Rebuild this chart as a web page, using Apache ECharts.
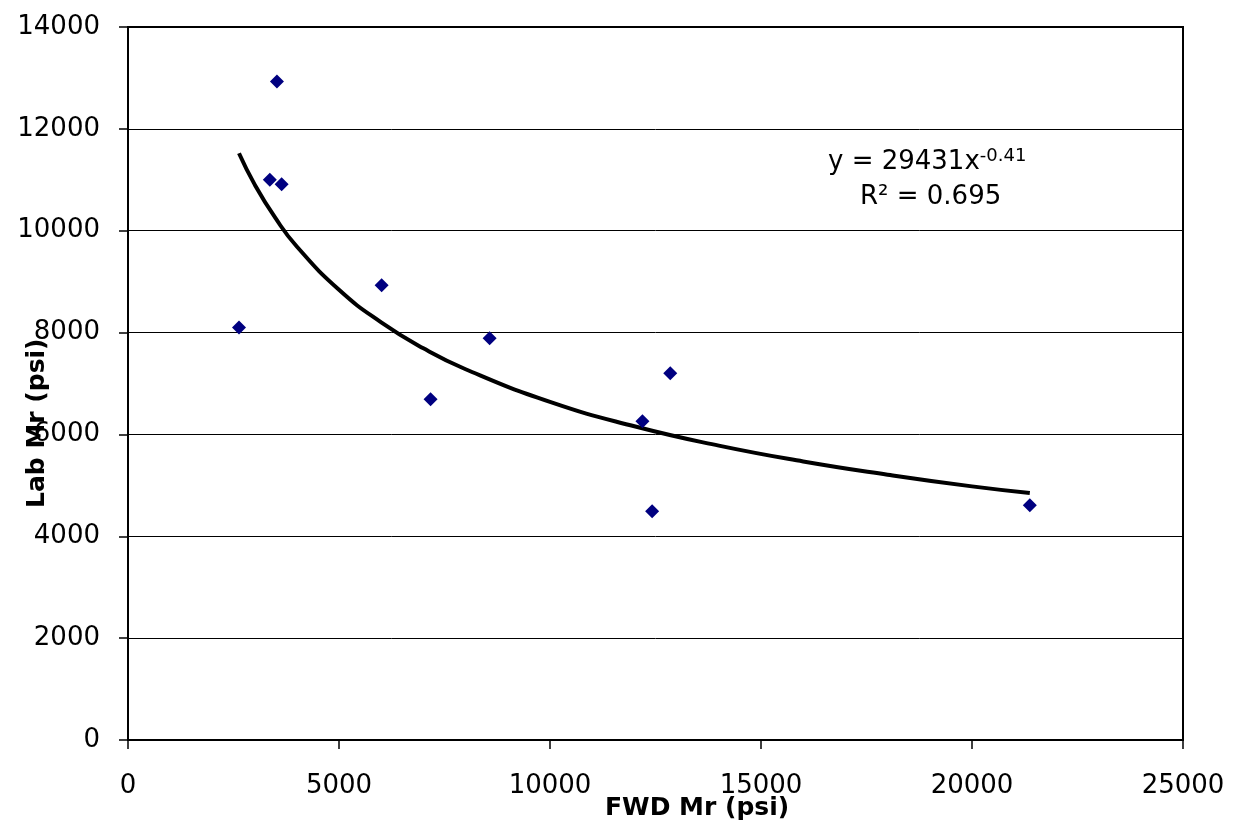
<!DOCTYPE html>
<html>
<head>
<meta charset="utf-8">
<script src="https://cdn.jsdelivr.net/npm/echarts@6/dist/echarts.min.js"></script>
<style>
  html, body { margin: 0; padding: 0; background: #fff; }
  #chart { width: 1233px; height: 834px; }
</style>
</head>
<body>
<div id="chart"></div>
<script>
// measured points, FWD Mr vs Lab Mr (psi)
var fwdMr = [2630, 3530, 3360, 3640, 6010, 7170, 8570, 12190, 12850, 12420, 21370];
var labMr = [8100, 12930, 11000, 10910, 8930, 6690, 7890, 6260, 7200, 4490, 4610];

// power trendline
var trendX = [2630, 3000, 3500, 4000, 5000, 6000, 7000, 8000, 10000, 12000, 14000, 16000, 18000, 20000, 21370];
var trendY = [11520, 10910, 10240, 9690, 8840, 8200, 7690, 7280, 6640, 6160, 5780, 5470, 5210, 4980, 4850];

var xTicks = [0, 5000, 10000, 15000, 20000, 25000];
var yTicks = [0, 2000, 4000, 6000, 8000, 10000, 12000, 14000];

var points = fwdMr.map(function (v, i) { return [v, labMr[i]]; });
var trend = trendX.map(function (v, i) { return [v, trendY[i]]; });

var chart = echarts.init(document.getElementById('chart'));

var labelFont = {
  fontFamily: 'DejaVu Sans',
  fontSize: 26,
  color: '#000',
  formatter: function (v) { return String(v); }
};

var option = {
  backgroundColor: '#fff',
  animation: false,
  grid: {
    left: 128,
    right: 50,
    top: 27,
    bottom: 94,
    show: true,
    borderColor: '#000',
    borderWidth: 2
  },
  xAxis: {
    type: 'value',
    min: xTicks[0],
    max: xTicks[xTicks.length - 1],
    interval: 5000,
    axisLine: { lineStyle: { color: '#000', width: 2 } },
    axisTick: { show: true, inside: false, length: 9, lineStyle: { color: '#000', width: 1.5 } },
    axisLabel: Object.assign({ margin: 33 }, labelFont),
    splitLine: { show: false }
  },
  yAxis: {
    type: 'value',
    min: yTicks[0],
    max: yTicks[yTicks.length - 1],
    interval: 2000,
    axisLine: { show: true, lineStyle: { color: '#000', width: 2 } },
    axisTick: { show: true, inside: false, length: 9, lineStyle: { color: '#000', width: 1.5 } },
    axisLabel: Object.assign({ margin: 28 }, labelFont),
    splitLine: { show: true, lineStyle: { color: '#000', width: 1 } }
  },
  graphic: [
    {
      type: 'text',
      left: 605,
      top: 796,
      style: {
        text: 'FWD Mr (psi)',
        font: 'bold 25px "DejaVu Sans"',
        fill: '#000'
      }
    },
    {
      type: 'text',
      x: 50,
      y: 508,
      rotation: Math.PI / 2,
      style: {
        text: 'Lab Mr (psi)',
        font: 'bold 25px "DejaVu Sans"',
        fill: '#000',
        textAlign: 'left',
        textVerticalAlign: 'bottom'
      }
    },
    {
      type: 'text',
      x: 828,
      y: 147,
      style: {
        text: '{b|y = 29431x}{s|-0.41}',
        rich: {
          b: { fontFamily: 'DejaVu Sans', fontSize: 26, fill: '#000', color: '#000' },
          s: { fontFamily: 'DejaVu Sans', fontSize: 18, fill: '#000', color: '#000', verticalAlign: 'top', padding: [0, 0, 12, 0] }
        }
      }
    },
    {
      type: 'text',
      x: 860,
      y: 184,
      style: {
        text: 'R² = 0.695',
        font: '26px "DejaVu Sans"',
        fill: '#000'
      }
    }
  ],
  series: [
    {
      name: 'trend',
      type: 'line',
      data: trend,
      smooth: true,
      showSymbol: false,
      symbol: 'none',
      lineStyle: { color: '#000', width: 4 },
      z: 2
    },
    {
      name: 'Lab Mr',
      type: 'scatter',
      data: points,
      symbol: 'diamond',
      symbolSize: [14, 14],
      itemStyle: { color: '#000080', opacity: 1 },
      z: 3
    }
  ]
};

chart.setOption(option);
</script>
</body>
</html>
